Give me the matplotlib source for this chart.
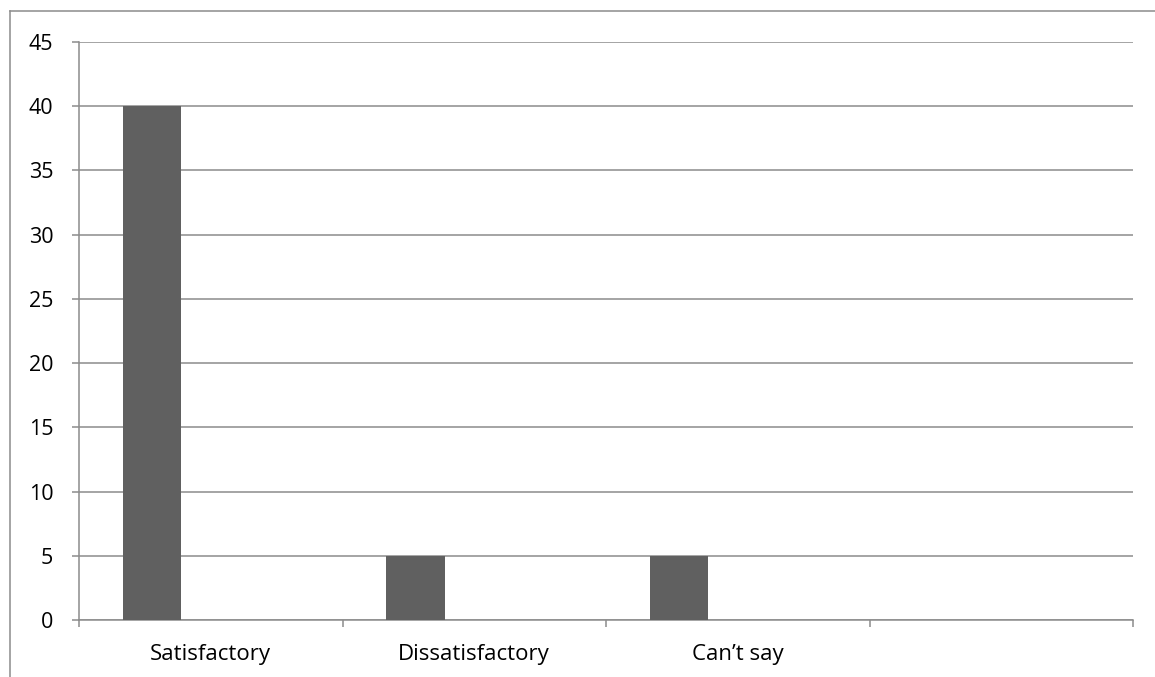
import matplotlib.pyplot as plt
from matplotlib.lines import Line2D
import numpy as np

categories = ['Satisfactory', 'Dissatisfactory', 'Can\u2019t say', '']
series_a = [40, 5, 5, 0]
y_ticks = [0, 5, 10, 15, 20, 25, 30, 35, 40, 45]

GRID = '#8c8c8c'
BAR = '#606060'

plt.rcParams['font.family'] = ['Open Sans', 'DejaVu Sans']

fig = plt.figure(figsize=(11.55, 6.77), dpi=100)
ax = fig.add_axes([79 / 1155, 1 - 620 / 677, (1133 - 79) / 1155, (620 - 42) / 677])

# clustered layout: three series slots per category, gap width 150%
n_series = 3
slot = 1 / (n_series + 1.5)
x = np.arange(len(categories))
ax.bar(x - slot, series_a, width=slot, color=BAR, align='center', zorder=3)

ax.set_xlim(-0.5, len(categories) - 0.5)
ax.set_ylim(0, 45)
ax.set_yticks(y_ticks)
ax.set_yticklabels([str(v) for v in y_ticks], fontsize=15.5)
ax.yaxis.grid(True, color=GRID, linewidth=1.1, zorder=0)

# ticks at category boundaries, labels at centres
ax.set_xticks(np.arange(-0.5, len(categories), 1.0))
ax.set_xticklabels([])
ax.set_xticks(x, minor=True)
ax.set_xticklabels(categories, minor=True, fontsize=16)
ax.tick_params(axis='x', which='minor', length=0, pad=17)
ax.tick_params(axis='x', which='major', length=5, width=1.1, color=GRID, direction='out')
ax.tick_params(axis='y', length=5, width=1.1, color=GRID, pad=13.5)

for side in ['top', 'right']:
    ax.spines[side].set_visible(False)
for side in ['left', 'bottom']:
    ax.spines[side].set_color(GRID)
    ax.spines[side].set_linewidth(1.1)

# outer chart frame
fig.add_artist(Line2D([10 / 1155, 1.0], [1 - 11 / 677, 1 - 11 / 677], color=GRID, linewidth=1.1))
fig.add_artist(Line2D([10 / 1155, 10 / 1155], [0.0, 1 - 11 / 677], color=GRID, linewidth=1.1))

fig.savefig('out.png', dpi=100)
